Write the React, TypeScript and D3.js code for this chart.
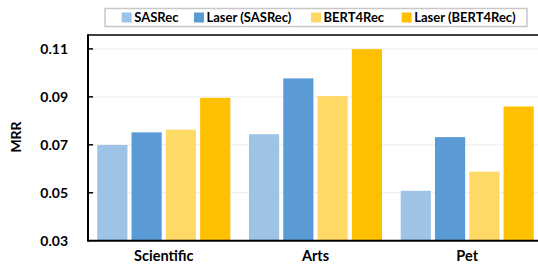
import React, { useEffect, useRef } from 'react';
import * as d3 from 'd3';

const categories = ['Scientific', 'Arts', 'Pet'];
const seriesNames = ['SASRec', 'Laser (SASRec)', 'BERT4Rec', 'Laser (BERT4Rec)'];
const sasrec = [0.0699, 0.0744, 0.0508];
const laserSasrec = [0.0752, 0.0977, 0.0732];
const bert4rec = [0.0763, 0.0903, 0.0588];
const laserBert4rec = [0.0896, 0.1099, 0.0860];
const yTicks = [0.03, 0.05, 0.07, 0.09, 0.11];
const colors = ['#9DC3E6', '#5B9BD5', '#FFD966', '#FFC000'];

const App = () => {
  const svgRef = useRef<SVGSVGElement>(null);

  useEffect(() => {
    const svg = d3.select(svgRef.current);
    svg.selectAll('*').remove();

    const width = 538;
    const height = 267;
    const font = 'Lato, "Open Sans", sans-serif';
    const left = 88, right = 543, top = 35, bottom = 240.7;
    const values = [sasrec, laserSasrec, bert4rec, laserBert4rec];

    svg.attr('width', width).attr('height', height).style('font-family', font);

    const x0 = d3.scaleBand().domain(categories).range([left, right])
      .paddingInner(0.123).paddingOuter(0.061);
    const x1 = d3.scaleBand().domain(seriesNames).range([0, x0.bandwidth()])
      .paddingInner(0.12);
    const y = d3.scaleLinear().domain([0.03, 0.1158]).range([bottom, top]);

    // gridlines
    svg.append('g').selectAll('line')
      .data(yTicks.slice(1))
      .enter().append('line')
      .attr('x1', left).attr('x2', width)
      .attr('y1', d => y(d)).attr('y2', d => y(d))
      .attr('stroke', '#ececec').attr('stroke-width', 1);

    // bars
    categories.forEach((cat, ci) => {
      const g = svg.append('g').attr('transform', `translate(${x0(cat)},0)`);
      g.selectAll('rect')
        .data(seriesNames.map((s, si) => ({ s, si, v: values[si][ci] })))
        .enter().append('rect')
        .attr('x', d => x1(d.s))
        .attr('width', x1.bandwidth())
        .attr('y', d => y(d.v))
        .attr('height', d => bottom - y(d.v))
        .attr('fill', d => colors[d.si]);
    });

    // frame
    svg.append('line').attr('x1', left).attr('x2', width).attr('y1', top).attr('y2', top)
      .attr('stroke', '#000').attr('stroke-width', 1.5);
    svg.append('line').attr('x1', left).attr('x2', width).attr('y1', bottom).attr('y2', bottom)
      .attr('stroke', '#000').attr('stroke-width', 2);
    svg.append('line').attr('x1', left).attr('x2', left).attr('y1', top - 0.75).attr('y2', bottom + 1)
      .attr('stroke', '#000').attr('stroke-width', 2);

    // y ticks
    const yt = svg.append('g');
    yt.selectAll('line').data(yTicks.slice(1)).enter().append('line')
      .attr('x1', left).attr('x2', left + 5)
      .attr('y1', d => y(d)).attr('y2', d => y(d))
      .attr('stroke', '#000').attr('stroke-width', 1.5);
    yt.selectAll('text').data(yTicks).enter().append('text')
      .attr('x', 68).attr('y', d => y(d))
      .attr('dy', '0.35em')
      .attr('text-anchor', 'end')
      .attr('font-size', 14).attr('font-weight', 'bold')
      .text(d => d3.format('.2f')(d));

    svg.append('text')
      .attr('transform', `translate(21,137) rotate(-90)`)
      .attr('text-anchor', 'middle')
      .attr('font-size', 14).attr('font-weight', 'bold')
      .text('MRR');

    // category labels
    svg.append('g').selectAll('text').data(categories).enter().append('text')
      .attr('x', d => x0(d) + x0.bandwidth() / 2)
      .attr('y', 261)
      .attr('text-anchor', 'middle')
      .attr('font-size', 14.5).attr('font-weight', 'bold')
      .text(d => d);

    // legend
    svg.append('rect').attr('x', 105).attr('y', 8.5).attr('width', 422).attr('height', 18)
      .attr('fill', '#fff').attr('stroke', '#c8c8c8').attr('stroke-width', 1.5);
    const legendX = [121.7, 194, 311, 401.7];
    const legend = svg.append('g').selectAll('g').data(seriesNames).enter().append('g')
      .attr('transform', (d, i) => `translate(${legendX[i]},12.5)`);
    legend.append('rect').attr('width', 10).attr('height', 10)
      .attr('fill', (d, i) => colors[i]);
    legend.append('text').attr('x', 12.5).attr('y', 5).attr('dy', '0.35em')
      .attr('font-size', 13).attr('font-weight', 'bold')
      .text(d => d);
  }, []);

  return <svg ref={svgRef} style={{ position: 'absolute', left: 0, top: 0 }}></svg>;
};

export default App;
